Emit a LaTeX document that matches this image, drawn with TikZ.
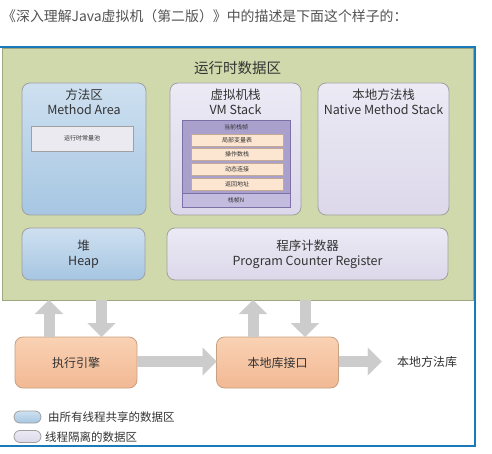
\documentclass[tikz,border=0pt]{standalone}
\usepackage{fontspec}
\newfontfamily\cjk{Noto Sans CJK SC}
\usepackage{tikz}
\usetikzlibrary{arrows.meta}
\usepackage{xcolor}
\definecolor{ColGreen}{RGB}{208,217,172}
\definecolor{ColGreenD}{RGB}{158,166,128}
\definecolor{ColBlueT}{RGB}{206,224,240}
\definecolor{ColBlueB}{RGB}{166,198,226}
\definecolor{ColLavT}{RGB}{236,234,245}
\definecolor{ColLavB}{RGB}{220,216,234}
\definecolor{ColPurple}{RGB}{170,160,204}
\definecolor{ColPurpleL}{RGB}{196,188,222}
\definecolor{ColPurpleD}{RGB}{124,112,166}
\definecolor{ColRow}{RGB}{252,230,210}
\definecolor{ColRowD}{RGB}{196,170,150}
\definecolor{ColPool}{RGB}{234,234,240}
\definecolor{ColPeachT}{RGB}{249,210,180}
\definecolor{ColPeachB}{RGB}{242,184,148}
\definecolor{ColPeachD}{RGB}{200,160,130}
\definecolor{ColArrow}{RGB}{204,204,204}
\definecolor{ColBorder}{RGB}{160,160,160}
\definecolor{ColFrame}{RGB}{24,122,184}
\definecolor{ColText}{RGB}{51,51,51}
\tikzstyle{RuntimeArea}=[rectangle,draw=ColGreenD,fill=ColGreen,line width=0.8pt,inner sep=0pt,outer sep=0pt]
\tikzstyle{SharedArea}=[rectangle,rounded corners=8pt,draw=ColBorder,line width=0.8pt,top color=ColBlueT,
bottom color=ColBlueB,inner sep=0pt,outer sep=0pt]
\tikzstyle{ThreadArea}=[rectangle,rounded corners=8pt,draw=ColBorder,line width=0.8pt,top color=ColLavT,
bottom color=ColLavB,inner sep=0pt,outer sep=0pt]
\tikzstyle{AreaTitle}=[anchor=north,align=center,inner sep=0pt,text=ColText,
font=\cjk\fontsize{12.5}{15}\selectfont]
\tikzstyle{SmallText}=[inner sep=0pt,text=ColText,font=\cjk\fontsize{6}{7}\selectfont]
\tikzstyle{StackRow}=[rectangle,draw=ColRowD,fill=ColRow,line width=0.5pt,minimum width=92pt,
minimum height=12pt,inner sep=0pt,text=ColText,font=\cjk\fontsize{6}{7}\selectfont]
\tikzstyle{EngineBox}=[rectangle,rounded corners=8pt,draw=ColPeachD,line width=0.8pt,top color=ColPeachT,
bottom color=ColPeachB,minimum width=122pt,minimum height=51pt,inner sep=0pt,outer sep=0pt,
text=ColText,font=\cjk\fontsize{12}{14}\selectfont]
\tikzstyle{FatArrow}=[ColArrow,line width=11pt,-{Triangle[length=14pt,width=28pt,line width=0.1pt]}]
\tikzstyle{LegendPill}=[rectangle,rounded corners=6pt,draw=ColBorder,line width=0.8pt,
minimum width=27pt,minimum height=12pt,inner sep=0pt]
\tikzstyle{PlainText}=[inner sep=0pt,text=ColText,font=\cjk\fontsize{12}{14}\selectfont]

\begin{document}
\begin{tikzpicture}[x=1pt,y=-1pt]
        \useasboundingbox(0,0)rectangle(492,454);
        \node[PlainText,anchor=west,text=ColText!85,font=\cjk\fontsize{13.9}{16}\selectfont](hdr)at(2,16)
            {《深入理解Java虚拟机（第二版）》中的描述是下面这个样子的：};
        \draw[ColFrame,line width=1.5pt](0,47)--(475,47)--(475,446)--(0,446);
        % runtime data area
        \node[RuntimeArea,minimum width=471pt,minimum height=252pt](rt)at(237.5,174){};
        \node[AreaTitle,font=\cjk\fontsize{14.5}{17}\selectfont](rtT)at([yshift=-13pt]rt.north){运行时数据区};
        \node[SharedArea,minimum width=124pt,minimum height=132pt](ma)at(84,149){};
        \node[AreaTitle](maT)at([yshift=-6pt]ma.north){方法区\\Method Area};
        \node[rectangle,draw=ColBorder,fill=ColPool,line width=0.6pt,minimum width=102pt,minimum height=25pt,
            inner sep=0pt,text=ColText,font=\cjk\fontsize{6}{7}\selectfont](pool)at(82,138.5){运行时常量池};
        \node[ThreadArea,minimum width=131pt,minimum height=132pt](vm)at(235.5,149){};
        \node[AreaTitle](vmT)at([yshift=-6pt]vm.north){虚拟机栈\\VM Stack};
        \node[rectangle,draw=ColPurpleD,fill=ColPurple,line width=0.6pt,minimum width=108pt,minimum height=87pt,
            inner sep=0pt](frm)at(236,163.5){};
        \node[rectangle,draw=ColPurpleD,fill=ColPurpleL,line width=0.6pt,minimum width=108pt,minimum height=14pt,
            inner sep=0pt,anchor=south,text=ColText,font=\cjk\fontsize{6}{7}\selectfont](frmN)at(frm.south){栈帧N};
        \node[SmallText](cur)at(236,127.5){当前栈帧};
        \foreach \txt [count=\i] in {局部变量表,操作数栈,动态连接,返回地址}
            \node[StackRow](row\i)at(237,125.3+14.7*\i){\txt};
        \node[ThreadArea,minimum width=131pt,minimum height=132pt](nms)at(383.5,149){};
        \node[AreaTitle](nmsT)at([yshift=-6pt]nms.north){本地方法栈\\Native Method Stack};
        \node[SharedArea,minimum width=123pt,minimum height=52pt,align=center,text=ColText,
            font=\cjk\fontsize{12.5}{15}\selectfont](heap)at(83.5,254){堆\\Heap};
        \node[ThreadArea,minimum width=281pt,minimum height=52pt,align=center,text=ColText,
            font=\cjk\fontsize{12.5}{15}\selectfont](pc)at(307.5,254){程序计数器\\Program Counter Register};
        % execution side
        \node[EngineBox](exe)at(76,362.5){执行引擎};
        \node[EngineBox](nli)at(277.5,362.5){本地库接口};
        \node[PlainText](lib)at(427,362){本地方法库};
        \draw[FatArrow]([xshift=-27pt]exe.north)--([xshift=-27pt]exe.north|-rt.south);
        \draw[FatArrow]([xshift=25.5pt]exe.north|-rt.south)--([xshift=25.5pt]exe.north);
        \draw[FatArrow]([xshift=-24.5pt]nli.north)--([xshift=-24.5pt]nli.north|-rt.south);
        \draw[FatArrow]([xshift=27.5pt]nli.north|-rt.south)--([xshift=27.5pt]nli.north);
        \draw[FatArrow]([yshift=1pt]exe.east)--([yshift=1pt]exe.east-|nli.west);
        \draw[FatArrow,shorten >=15pt]([yshift=1pt]nli.east)--([yshift=1pt]nli.east-|lib.west);
        % legend
        \node[LegendPill,top color=ColBlueT,bottom color=ColBlueB](lgA)at(27.5,417){};
        \node[PlainText,anchor=west,font=\cjk\fontsize{11.5}{14}\selectfont](lgAT)at(48,417.5){由所有线程共享的数据区};
        \node[LegendPill,top color=ColLavT,bottom color=ColLavB](lgB)at(27.5,436.5){};
        \node[PlainText,anchor=west,font=\cjk\fontsize{11.5}{14}\selectfont](lgBT)at(45,437){线程隔离的数据区};
    \end{tikzpicture}
\end{document}
